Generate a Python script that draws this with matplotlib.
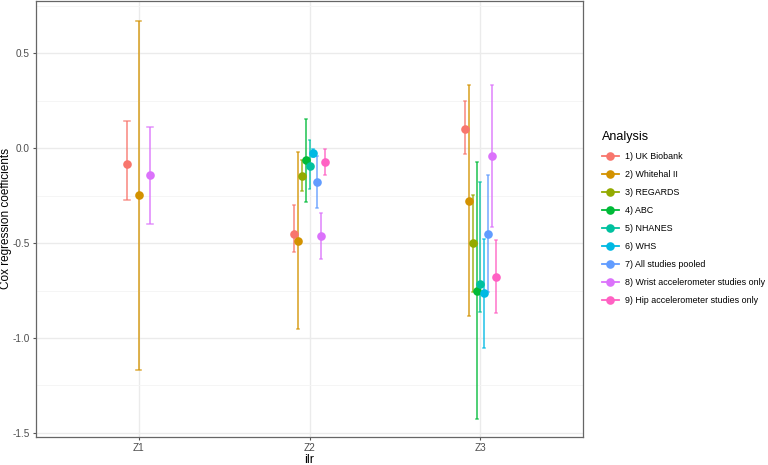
import numpy as np
import matplotlib.pyplot as plt
from matplotlib.lines import Line2D

plt.rcParams['font.family'] = ['Liberation Sans', 'DejaVu Sans']

# -------------------------------------------------------------------------------------------------------------------- #
# DATA

components = ['Z1', 'Z2', 'Z3']

analyses = ['1) UK Biobank', '2) Whitehal II', '3) REGARDS', '4) ABC', '5) NHANES', '6) WHS',
            '7) All studies pooled', '8) Wrist accelerometer studies only', '9) Hip accelerometer studies only']
colours = ['#F8766D', '#D39200', '#93AA00', '#00BA38', '#00C19F', '#00B9E3', '#619CFF', '#DB72FB', '#FF61C3']

# estimates per analysis, NaN where the analysis has no value for that component
est = {
    '1) UK Biobank': [-0.083, -0.450, 0.102],
    '2) Whitehal II': [-0.248, -0.489, -0.276],
    '3) REGARDS': [np.nan, -0.146, -0.501],
    '4) ABC': [np.nan, -0.063, -0.752],
    '5) NHANES': [np.nan, -0.093, -0.715],
    '6) WHS': [np.nan, -0.023, -0.764],
    '7) All studies pooled': [np.nan, -0.176, -0.450],
    '8) Wrist accelerometer studies only': [-0.142, -0.464, -0.041],
    '9) Hip accelerometer studies only': [np.nan, -0.072, -0.677],
}
lower = {
    '1) UK Biobank': [-0.272, -0.547, -0.028],
    '2) Whitehal II': [-1.169, -0.954, -0.884],
    '3) REGARDS': [np.nan, -0.227, -0.756],
    '4) ABC': [np.nan, -0.283, -1.427],
    '5) NHANES': [np.nan, -0.216, -0.864],
    '6) WHS': [np.nan, -0.044, -1.051],
    '7) All studies pooled': [np.nan, -0.313, -0.760],
    '8) Wrist accelerometer studies only': [-0.399, -0.585, -0.417],
    '9) Hip accelerometer studies only': [np.nan, -0.142, -0.870],
}
upper = {
    '1) UK Biobank': [0.146, -0.300, 0.248],
    '2) Whitehal II': [0.673, -0.021, 0.334],
    '3) REGARDS': [np.nan, -0.063, -0.246],
    '4) ABC': [np.nan, 0.153, -0.074],
    '5) NHANES': [np.nan, 0.042, -0.179],
    '6) WHS': [np.nan, -0.005, -0.478],
    '7) All studies pooled': [np.nan, -0.041, -0.141],
    '8) Wrist accelerometer studies only': [0.114, -0.343, 0.335],
    '9) Hip accelerometer studies only': [np.nan, -0.004, -0.483],
}

# -------------------------------------------------------------------------------------------------------------------- #
# PLOT

dodge = 0.2
fig = plt.figure(figsize=(7.68, 4.65), dpi=100)
ax = fig.add_axes([36 / 768, 1 - 436.7 / 465, (583 - 36) / 768, 435.7 / 465])

for xi, comp in enumerate(components):
    present = [a for a in analyses if not np.isnan(est[a][xi])]
    n = len(present)
    for k, a in enumerate(present):
        x = xi + 1 + (k - (n - 1) / 2) * dodge / n
        c = colours[analyses.index(a)]
        cap = 0.05 / n
        lo, hi = lower[a][xi], upper[a][xi]
        ax.plot([x, x], [lo, hi], color=c, lw=1.3, alpha=0.75, solid_capstyle='butt', zorder=2)
        ax.plot([x - cap, x + cap], [lo, lo], color=c, lw=1.1, alpha=0.75, zorder=2)
        ax.plot([x - cap, x + cap], [hi, hi], color=c, lw=1.1, alpha=0.75, zorder=2)
        ax.plot(x, est[a][xi], 'o', color=c, ms=6.2, mec='none', zorder=3)

ax.set_xlim(0.4, 3.6)
ax.set_ylim(-1.52, 0.776)
ax.set_xticks([1, 2, 3])
ax.set_xticklabels(components)
ax.set_yticks([-1.5, -1.0, -0.5, 0.0, 0.5])
ax.set_yticklabels(['-1.5', '-1.0', '-0.5', '0.0', '0.5'])
ax.set_yticks([-1.25, -0.75, -0.25, 0.25, 0.75], minor=True)
ax.grid(True, which='major', color='#EBEBEB', lw=1.0, zorder=0)
ax.grid(True, which='minor', axis='y', color='#F4F4F4', lw=0.6, zorder=0)
ax.set_axisbelow(True)
for s in ax.spines.values():
    s.set_color('#666666')
    s.set_linewidth(0.9)
ax.tick_params(which='major', colors='#555555', labelcolor='#4D4D4D', labelsize=7.2, length=2.5, width=0.8, pad=2)
ax.tick_params(which='minor', length=0)
ax.set_xlabel('ilr', fontsize=9, labelpad=1)
ax.set_ylabel('Cox regression coefficients', fontsize=8.5)
ax.yaxis.set_label_coords(-0.043, 0.5)

handles = [Line2D([0], [0], color=c, lw=1.3, marker='o', ms=6.2, mec='none') for c in colours]
leg = fig.legend(handles, analyses, title='Analysis', loc='upper left', bbox_to_anchor=(598 / 768, 1 - 127 / 465),
                 frameon=False, fontsize=6.4, title_fontsize=9, handlelength=2.0, handletextpad=0.6,
                 labelspacing=1.02, borderaxespad=0)
leg._legend_box.align = 'left'

plt.savefig('out.png', dpi=100)
